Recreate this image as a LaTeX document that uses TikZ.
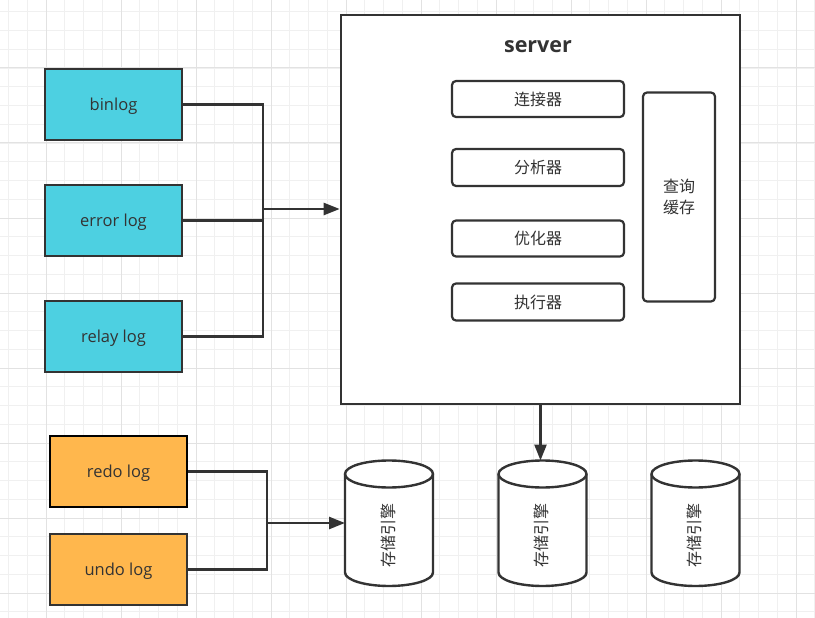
\documentclass[tikz,border=0pt]{standalone}
\usepackage{fontspec}
\setmainfont{Open Sans}
\newfontfamily\cjk{Noto Sans CJK SC}
\usetikzlibrary{arrows.meta}
\definecolor{cyanfill}{HTML}{4DD0E1}
\definecolor{orangefill}{HTML}{FFB74D}
\definecolor{linecol}{HTML}{333333}
\definecolor{gridminor}{HTML}{F0F0F0}
\definecolor{gridmajor}{HTML}{E2E2E2}
\begin{document}
\begin{tikzpicture}[x=1pt,y=-1pt,
  minorline/.style={draw=gridminor,line width=0.9pt},
  majorline/.style={draw=gridmajor,line width=1pt},
  logbox/.style={draw=linecol,line width=2.6pt,minimum width=137pt,minimum height=71pt,inner sep=0pt,text=linecol,text height=12pt,text depth=0pt,font=\fontsize{16.5}{19}\selectfont},
  bluebox/.style={logbox,fill=cyanfill},
  orangebox/.style={logbox,fill=orangefill},
  modbox/.style={draw=linecol,fill=white,line width=2.2pt,rounded corners=4pt,minimum width=172pt,minimum height=36pt,inner sep=0pt,text=linecol,font=\cjk\fontsize{16}{19}\selectfont},
  conn/.style={draw=linecol,line width=2.5pt},
  arr/.style={conn,-{Triangle[length=16pt,width=12pt]}},
  cyl/.style={draw=linecol,fill=white,line width=2.4pt},
  cyltext/.style={rotate=90,text=linecol,inner sep=0pt,font=\cjk\fontsize{16}{19}\selectfont}
]
\useasboundingbox (0,0) rectangle (815,618);
\fill[white] (0,0) rectangle (815,618);
% grid
\foreach \i in {0,...,43} \draw[minorline] ({8.5+18.75*\i},0) -- ++(0,618);
\foreach \i in {0,...,32} \draw[minorline] (0,{11.75+18.75*\i}) -- ++(815,0);
\foreach \i in {0,...,10} \draw[majorline] ({46+75*\i},0) -- ++(0,618);
\foreach \i in {0,...,7} \draw[majorline] (0,{68+75*\i}) -- ++(815,0);

% server
\node[draw=linecol,fill=white,line width=2.6pt,minimum width=399pt,minimum height=389pt,inner sep=0pt] (server) at (540.5,209.5) {};
\node[text=linecol,font=\fontsize{21.5}{24}\selectfont\bfseries] (srvtitle) at (538,47) {server};
\node[modbox] (conn) at (538,99) {连接器};
\node[modbox,minimum height=37pt] (anal) at (538,167.5) {分析器};
\node[modbox] (opt) at (538,238.5) {优化器};
\node[modbox,minimum height=37pt] (exe) at (538,302) {执行器};
\node[modbox,minimum width=72pt,minimum height=209pt,align=center,font=\cjk\fontsize{16}{21.5}\selectfont] (cache) at (679,197) {查询\\缓存};

% logs
\node[bluebox] (binlog) at (113.5,104.5) {binlog};
\node[bluebox] (errlog) at (113.5,220.5) {error log};
\node[bluebox] (relay) at (113.5,336.5) {relay log};
\node[orangebox,draw=black] (redo) at (118.5,471.5) {redo log};
\node[orangebox] (undo) at (118.5,569.5) {undo log};

% cylinders
\foreach \n/\cx in {1/389,2/542.5,3/695.5}{
  \draw[cyl] ({\cx-44},474) -- ({\cx-44},572.5) arc[start angle=180,end angle=360,x radius=44pt,y radius=13.5pt] -- ({\cx+44},474) arc[start angle=0,end angle=180,x radius=44pt,y radius=13.5pt] -- cycle;
  \draw[cyl,fill=none] ({\cx-44},474) arc[start angle=180,end angle=360,x radius=44pt,y radius=13.5pt];
  \node[cyltext] (cyl\n) at (\cx-1,535) {存储引擎};
  \coordinate (cyl\n top) at (\cx,460.5);
}
\coordinate (cylonew) at (345,523);

% connectors
\coordinate (jA) at (263,209);
\draw[conn] (binlog.east) -| (jA) |- (relay.east);
\draw[conn] (errlog.east) -- (errlog.east -| jA);
\draw[arr] (jA) -- (jA -| server.west);

\coordinate (jB) at (267,523);
\draw[conn] (redo.east) -| (jB) |- (undo.east);
\draw[arr] (jB) -- (cylonew);

\draw[arr] (server.south) -- (server.south |- cyl2top);
\end{tikzpicture}
\end{document}
